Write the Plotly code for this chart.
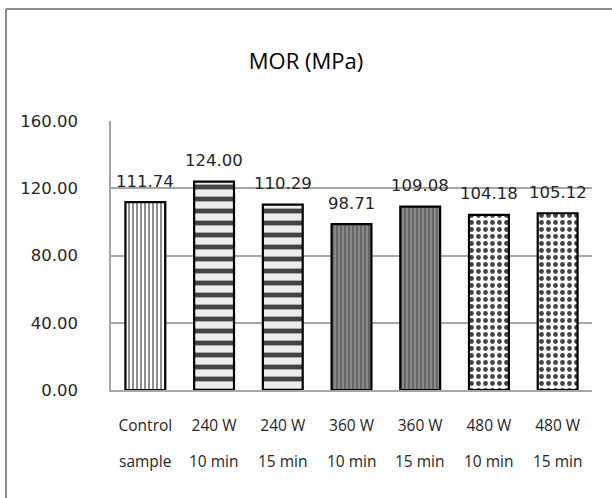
import plotly.graph_objects as go

categories_line1 = ["Control", "240 W", "240 W", "360 W", "360 W", "480 W", "480 W"]
categories_line2 = ["sample", "10 min", "15 min", "10 min", "15 min", "10 min", "15 min"]
mor_values = [111.74, 124.00, 110.29, 98.71, 109.08, 104.18, 105.12]
y_ticks = [0, 40, 80, 120, 160]

x_idx = list(range(len(mor_values)))

shapes = ["|", "-", "-", "|", "|", ".", "."]
bg = ["white", "#ececec", "#ececec", "#8a8a8a", "#8a8a8a", "white", "white"]
fg = ["black", "black", "black", "#eeeeee", "#eeeeee", "black", "black"]
psize = [4, 12, 12, 4, 4, 7, 7]
solid = [0.3, 0.4, 0.4, 0.25, 0.25, 0.38, 0.38]

fig = go.Figure()
fig.add_trace(go.Bar(
    x=x_idx, y=mor_values,
    marker=dict(color=bg, line=dict(color="black", width=2.2),
                pattern=dict(shape=shapes, fgcolor=fg, bgcolor=bg, size=psize, solidity=solid,
                             fgopacity=1)),
    width=0.58, showlegend=False,
))

annotations = [
    dict(x=xi, y=v, xref="x", yref="y", text=f"{v:.2f}", showarrow=False,
         yanchor="middle", yshift=21,
         font=dict(family="DejaVu Sans", size=16.5, color="#262626"))
    for xi, v in zip(x_idx, mor_values)
]
annotations += [
    dict(x=xi, y=-(461 - 390) / 269, xref="x", yref="paper", text=t, showarrow=False,
         yanchor="middle", font=dict(family="Open Sans", size=15.5, color="#262626"))
    for xi, t in zip(x_idx, categories_line2)
]

fig.update_layout(
    width=612, height=498,
    margin=dict(l=111, r=20, t=121, b=108),
    paper_bgcolor="white", plot_bgcolor="white",
    title=dict(text="MOR (MPa)", x=0.5, xref="container", xanchor="center", y=1 - 61/498, yanchor="middle",
               font=dict(family="Open Sans", size=22, color="black")),
    xaxis=dict(tickmode="array", tickvals=x_idx, ticktext=categories_line1, range=[-0.5, 6.5],
               showgrid=False, showline=True, linecolor="#a6a6a6", linewidth=1.5,
               ticks="", ticklabelstandoff=21,
               tickfont=dict(family="Open Sans", size=15.5, color="#262626")),
    yaxis=dict(range=[0, 160], tickvals=y_ticks, tickformat=".2f",
               showgrid=True, gridcolor="#a6a6a6", gridwidth=1.5,
               showline=True, linecolor="#a6a6a6", linewidth=1.5,
               zeroline=False, ticks="", ticklabelstandoff=28,
               tickfont=dict(family="DejaVu Sans", size=16.5, color="#262626")),
    annotations=annotations,
    shapes=[
        dict(type="line", xref="paper", yref="paper", x0=-105/481, x1=(612 - 111)/481,
             y0=(390 - 9)/269, y1=(390 - 9)/269, line=dict(color="#8c8c8c", width=2)),
        dict(type="line", xref="paper", yref="paper", x0=-105/481, x1=-105/481,
             y0=(390 - 9)/269, y1=(390 - 498)/269, line=dict(color="#8c8c8c", width=2)),
    ],
)

fig.write_html("out.html")
